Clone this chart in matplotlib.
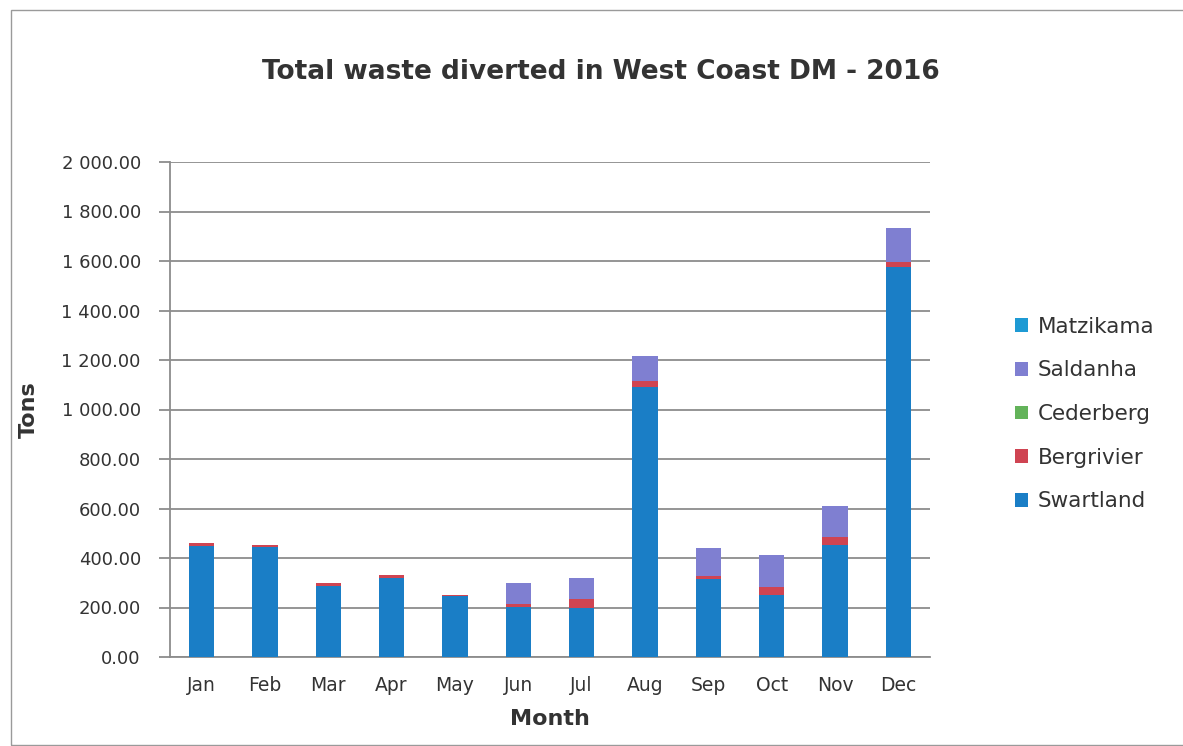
import matplotlib
matplotlib.use("Agg")
import matplotlib.pyplot as plt
from matplotlib.ticker import FuncFormatter, MultipleLocator
from matplotlib.patches import Rectangle
import numpy as np

months = ["Jan", "Feb", "Mar", "Apr", "May", "Jun",
          "Jul", "Aug", "Sep", "Oct", "Nov", "Dec"]

# Tons diverted per municipality, stacked bottom to top
swartland = [450, 446, 285, 320, 245, 203, 197, 1090, 316, 252, 453, 1575]
bergrivier = [10, 8, 15, 11, 6, 10, 36, 27, 12, 30, 30, 22]
cederberg = [0, 0, 0, 0, 0, 0, 0, 0, 0, 0, 0, 0]
saldanha = [0, 0, 0, 0, 0, 85, 88, 98, 112, 130, 127, 135]
matzikama = [0, 0, 0, 0, 0, 0, 0, 0, 0, 0, 0, 0]

series = [
    ("Swartland", swartland, "#1a7ec6"),
    ("Bergrivier", bergrivier, "#cf4452"),
    ("Cederberg", cederberg, "#63b35a"),
    ("Saldanha", saldanha, "#7f7fd1"),
    ("Matzikama", matzikama, "#1e9ad4"),
]

text_color = "#333333"
grid_color = "#8c8c8c"

fig = plt.figure(figsize=(11.83, 7.46), dpi=100)
fig.patch.set_facecolor("white")

# thin frame around the chart area
fig.patches.append(Rectangle((11 / 1183, 0.002), 1.2, 1 - 10 / 746 - 0.002,
                             transform=fig.transFigure, fill=False,
                             edgecolor="#9a9a9a", linewidth=1.0))

ax = fig.add_axes([170 / 1183, 1 - 657 / 746, 760 / 1183, (657 - 162) / 746])

x = np.arange(len(months))
bottom = np.zeros(len(months))
handles = {}
for name, vals, color in series:
    vals = np.asarray(vals, dtype=float)
    h = ax.bar(x, vals, width=0.4, bottom=bottom, color=color,
               edgecolor="none", label=name, zorder=3)
    handles[name] = h
    bottom += vals

ax.set_xlim(-0.5, len(months) - 0.5)
ax.set_ylim(0, 2000)
ax.yaxis.set_major_locator(MultipleLocator(200))
ax.yaxis.set_major_formatter(FuncFormatter(lambda v, p: f"{v:,.2f}".replace(",", " ")))
ax.grid(axis="y", color=grid_color, linewidth=1.3, zorder=0)
ax.set_axisbelow(True)

for side in ("top", "right"):
    ax.spines[side].set_visible(False)
ax.spines["left"].set_color(grid_color)
ax.spines["left"].set_linewidth(1.3)
ax.spines["bottom"].set_color(grid_color)
ax.spines["bottom"].set_linewidth(1.3)

ax.set_xticks(x)
ax.set_xticklabels(months)
ax.tick_params(axis="x", length=0, pad=14, labelsize=13.5, labelcolor=text_color)
ax.tick_params(axis="y", length=8, width=1.3, color=grid_color, pad=13,
               labelsize=13, labelcolor=text_color)

ax.set_xlabel("Month", fontsize=16, fontweight="bold", color=text_color, labelpad=10)
ax.set_ylabel("Tons", fontsize=16, fontweight="bold", color=text_color, labelpad=16)

fig.text(601 / 1183, 1 - 72 / 746, "Total waste diverted in West Coast DM - 2016",
         ha="center", va="center", fontsize=19, fontweight="bold", color=text_color)

order = ["Matzikama", "Saldanha", "Cederberg", "Bergrivier", "Swartland"]
leg = fig.legend([handles[n] for n in order], order,
                 loc="center left", bbox_to_anchor=(996 / 1183, 1 - 414 / 746),
                 frameon=False, fontsize=15.5, handlelength=0.6, handleheight=0.6,
                 handletextpad=0.45, labelspacing=1.1, labelcolor=text_color)

fig.savefig("out.png", dpi=100, facecolor=fig.get_facecolor())
